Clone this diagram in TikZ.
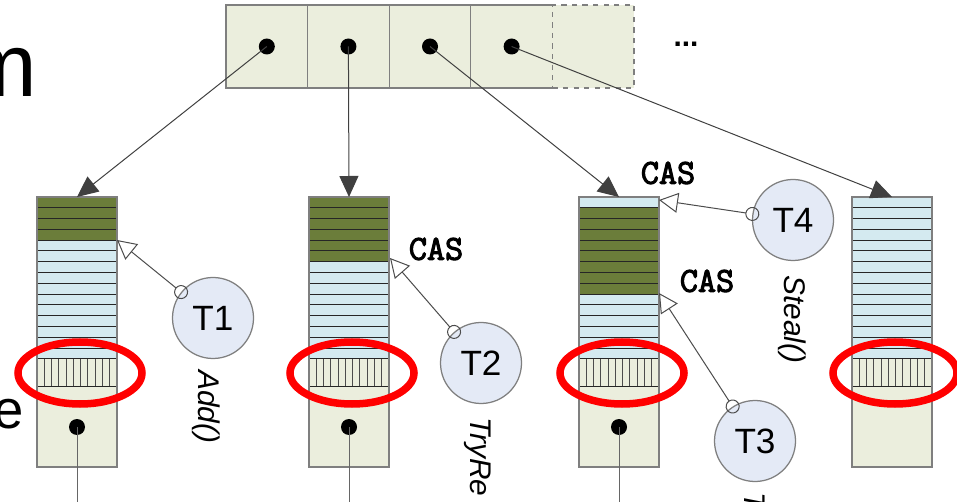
\documentclass[tikz,border=0pt]{standalone}
\usepackage{fontspec}
\setmainfont{Liberation Sans}
\newfontfamily\casfont{Latin Modern Mono}[FakeBold=3]
\usepackage{xcolor}
\usetikzlibrary{positioning, arrows.meta, calc}

\definecolor{slotfill}{HTML}{EBEEDD}
\definecolor{takenfill}{HTML}{6B7D3A}
\definecolor{freefill}{HTML}{D4EAF0}
\definecolor{threadfill}{HTML}{E4EAF6}
\definecolor{frame}{HTML}{7F7F7F}

\tikzset{
  cell/.style={draw=frame, line width=0.25mm, fill=slotfill, minimum width=16.32mm, minimum height=16.6mm, inner sep=0pt, outer sep=0pt},
  ref/.style={circle, fill=black, inner sep=0pt, minimum size=3.2mm},
  ptr/.style={draw=black!75, line width=0.2mm, -{Triangle[length=4.2mm, width=3.8mm]}},
  thread/.style={circle, draw=frame, line width=0.25mm, fill=threadfill, minimum size=16.2mm, inner sep=0pt, font=\fontsize{20}{24}\selectfont},
  cas/.style={draw=black!70, line width=0.2mm, {Circle[open, length=2.8mm]}-{Triangle[fill=white, length=3.8mm, width=4mm]}, shorten <=-1.4mm},
  caslabel/.style={inner sep=0pt, font=\casfont\fontsize{20}{24}\selectfont},
  op/.style={rotate=-90, anchor=west, inner sep=0pt, font=\itshape\fontsize{17}{20}\selectfont},
  ring/.style={draw=red, line width=1.5mm},
}

\begin{document}
\begin{tikzpicture}[x=0.2mm, y=-0.2mm]
  \useasboundingbox (0,0) rectangle (957,502);
  \clip (0,0) rectangle (957,502);

  \node[anchor=base east, inner sep=0pt, font=\fontsize{51}{60}\selectfont] (word1) at (38,97) {m};
  \node[anchor=base east, inner sep=0pt, font=\fontsize{31}{36}\selectfont] (word2) at (24,428) {e};

  % queue array
  \node[cell] (c1) at (266.8,46.5) {};
  \node[cell, right=0pt of c1] (c2) {};
  \node[cell, right=0pt of c2] (c3) {};
  \node[cell, right=0pt of c3] (c4) {};
  \node[cell, dashed, right=0pt of c4] (c5) {};
  \node[font=\bfseries\fontsize{17}{20}\selectfont] (more) at (686,44) {...};
  \foreach \i in {1,...,4} \node[ref] (d\i) at (c\i) {};

  % the four deques
  \foreach \qx/\ga/\gb/\n in {37/0/3/1, 309/0/5/2, 579/1/8/3, 852/99/98/4} {
    \foreach \r in {0,...,14} {
      \ifnum\r<\ga \def\rc{freefill}\else\ifnum\r>\gb \def\rc{freefill}\else\def\rc{takenfill}\fi\fi
      \draw[black!85, line width=0.2mm, fill=\rc] (\qx,{197+\r*10.8}) rectangle ++(80,10.8);
    }
    \draw[black!85, line width=0.2mm, fill=slotfill] (\qx,359) rectangle ++(80,28);
    \foreach \k in {1,...,10}
      \draw[black!70, line width=0.2mm] ({\qx+\k*80/11},359) -- ++(0,28);
    \draw[black!85, line width=0.2mm, fill=slotfill] (\qx,387) rectangle ++(80,80);
    \draw[frame, line width=0.3mm] (\qx,197) rectangle ++(80,270);
    \coordinate (top\n) at (\qx+40,197);
    \ifnum\n<4
      \node[ref] (h\n) at (\qx+40,427) {};
      \coordinate (end\n) at (\qx+40,510);
      \draw[black!60, line width=0.2mm] (h\n.center) -- (end\n);
    \fi
  }

  \foreach \i in {1,...,4} \draw[ptr] (d\i.center) -- (top\i);

  \foreach \n in {1,...,4}
    \draw[ring] ($(top\n)+(3,176)$) ellipse [x radius=12.4mm, y radius=6.2mm];

  % threads
  \node[thread] (t1) at (213,318) {T1};
  \node[thread] (t2) at (481,363) {T2};
  \node[thread] (t3) at (755,441) {T3};
  \node[thread] (t4) at (793,220) {T4};

  \coordinate (s1) at (117,240);
  \coordinate (s2) at (390,258);
  \coordinate (s3) at (659,293);
  \coordinate (s4) at (659,200);
  \foreach \i in {1,...,4} \draw[cas] (t\i) -- (s\i);

  \node[caslabel] (cas2) at (436,249) {CAS};
  \node[caslabel] (cas3) at (668,173) {CAS};
  \node[caslabel] (cas4) at (707,281) {CAS};

  \node[op] (add) at (206,370) {Add()};
  \node[op] (tryre) at (478,417) {TryRe};
  \node[op] (steal) at (792,275) {Steal()};
  \node[op] (take) at (755,492) {T};
\end{tikzpicture}
\end{document}
